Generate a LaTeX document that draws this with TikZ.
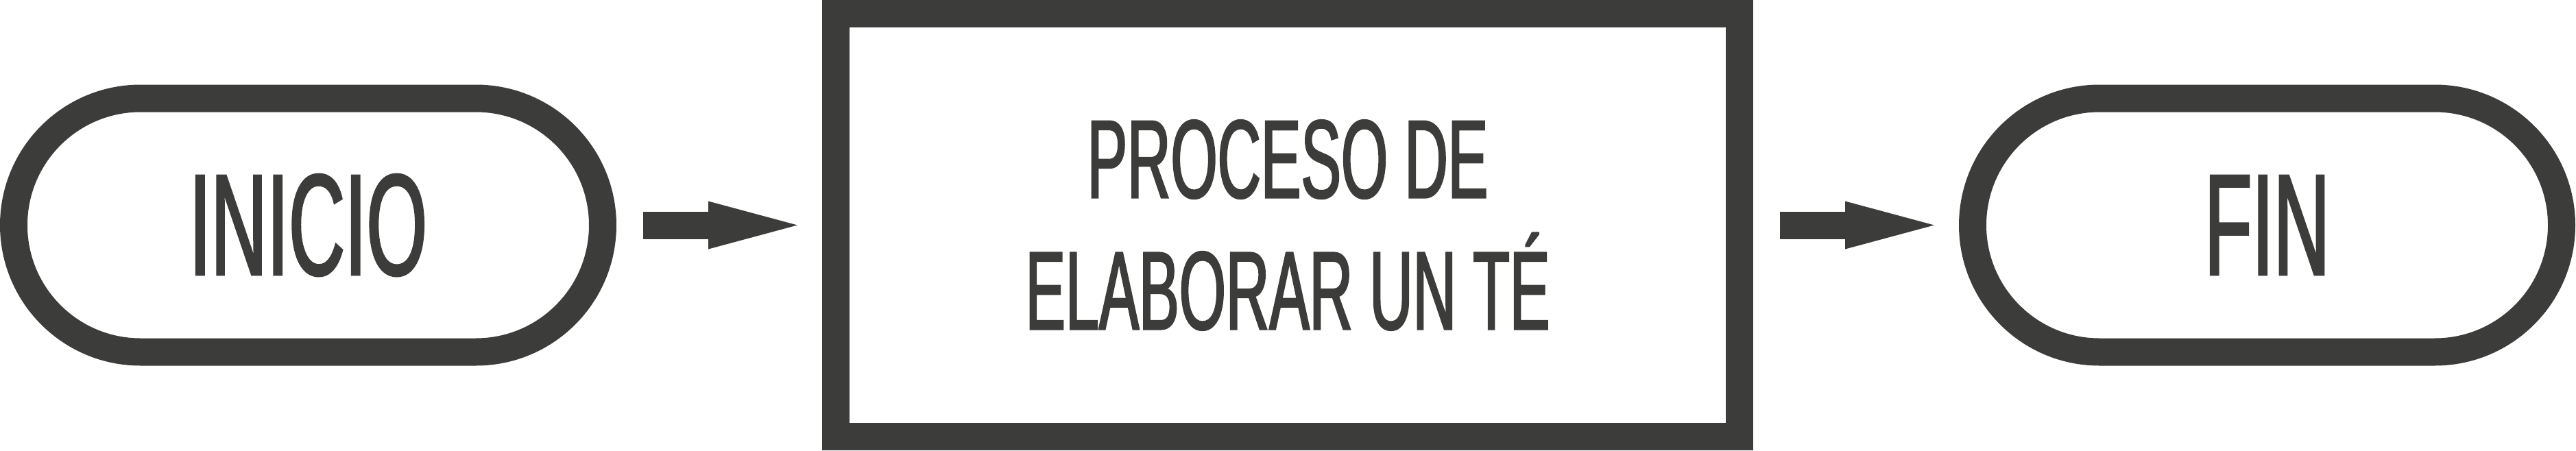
\documentclass[tikz,border=0pt]{standalone}
\usepackage{fontspec}
\setmainfont{Liberation Sans}[FakeStretch=0.54,FakeBold=1.5]
\usepackage{xcolor}
\usepackage{tikz}
\usetikzlibrary{arrows.meta,positioning}

\definecolor{tinta}{RGB}{60,60,58}

\begin{document}
\begin{tikzpicture}[
  node distance=3cm,
  terminal/.style={rectangle, draw=tinta, line width=4mm, rounded corners=18.5mm,
                   minimum width=8.59cm, minimum height=3.7cm, inner sep=0pt,
                   text=tinta, font=\fontsize{59.8pt}{60pt}\selectfont},
  bloque/.style={rectangle, draw=tinta, line width=4mm, minimum width=13.18cm,
                 minimum height=6.17cm, inner sep=0pt, align=center,
                 text=tinta, font=\fontsize{46.2pt}{54.6pt}\selectfont},
  flecha/.style={-{Triangle[length=13mm,width=7mm,line width=0pt]}, line width=4mm,
                 draw=tinta, shorten <=3.9mm, shorten >=3.6mm}
]
  \useasboundingbox (0,0) rectangle (37.57,6.57);

  \node[terminal] (inicio) at (4.495,3.285) {INICIO};
  \node[bloque,right=of inicio] (proc) {PROCESO DE\\ELABORAR UN TÉ};
  \node[terminal,right=of proc] (fin) {FIN};

  \draw[flecha] (inicio) -- (proc);
  \draw[flecha] (proc) -- (fin);
\end{tikzpicture}
\end{document}
